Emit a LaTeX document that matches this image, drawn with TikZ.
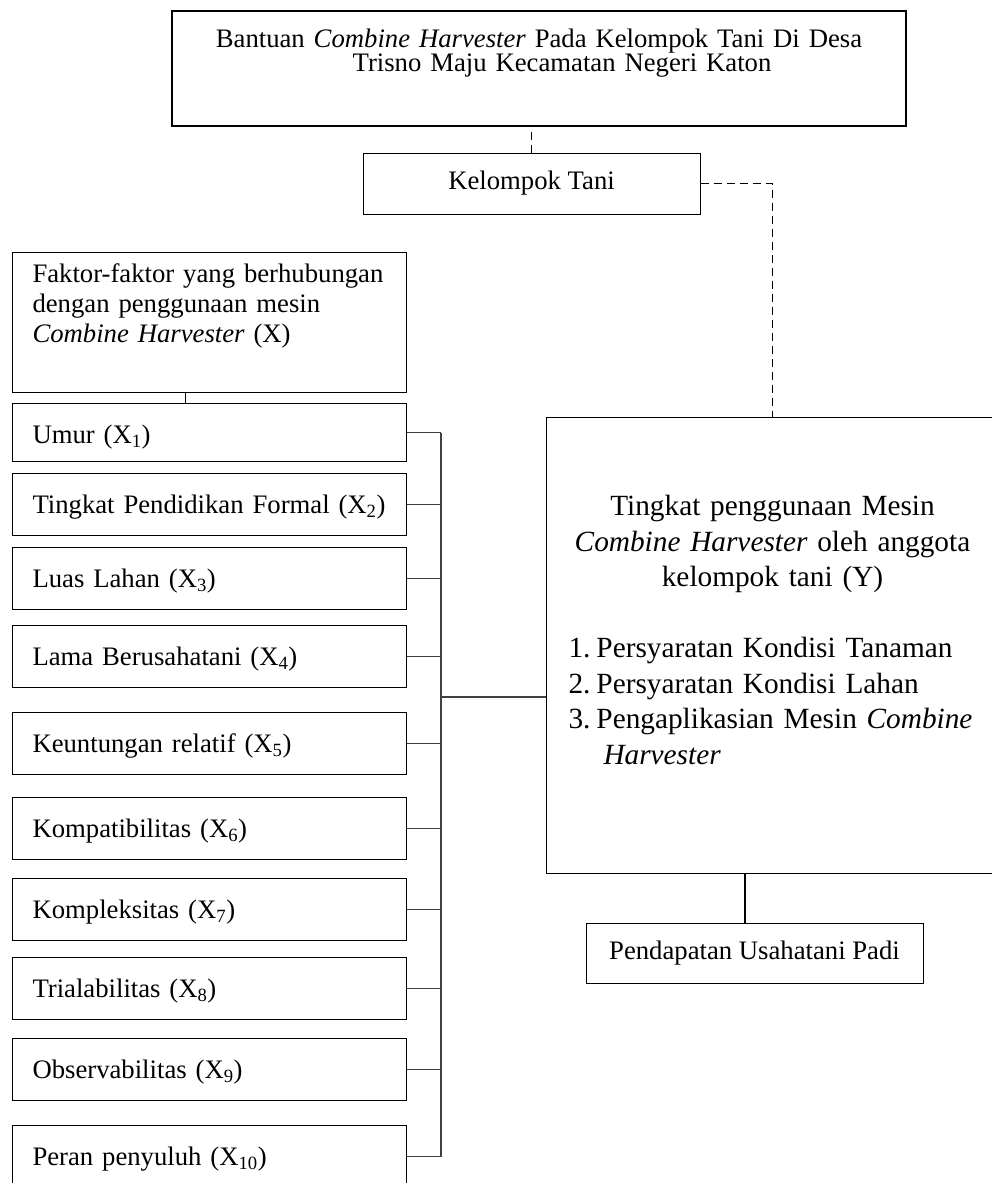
\documentclass[tikz,border=0pt]{standalone}
\usepackage{fontspec}
\setmainfont{Liberation Serif}
\usetikzlibrary{positioning,calc}
\setlength{\lineskiplimit}{-30pt}

\tikzset{
  kotak/.style={draw, line width=1pt, inner sep=0pt},
  faktor/.style={kotak, anchor=north west, inner xsep=20pt, text width=354pt, align=left, text height=40pt, text depth=22pt, font=\fontsize{26.7}{30}\selectfont},
  garis/.style={line width=1.2pt, draw=black!75},
  putus/.style={line width=1pt, dash pattern=on 8pt off 5pt},
}

\begin{document}
\begin{tikzpicture}[x=1pt,y=-1pt]
    \useasboundingbox (0,0) rectangle (991,1183);

    \node[kotak, line width=2pt, anchor=north west, inner xsep=10pt, text width=714pt, align=center, text height=36pt, text depth=79pt, font=\fontsize{26.7}{24.7}\selectfont] (bantuan) at (171,10) {Bantuan \emph{Combine Harvester} Pada Kelompok Tani Di Desa\\\hspace*{46pt}Trisno Maju Kecamatan Negeri Katon};

    \node[kotak, minimum width=337pt, minimum height=61pt, font=\fontsize{26.7}{30}\selectfont] (kelompok) at (531.5,183.5) {Kelompok Tani};

    \node[faktor, text height=30pt, text depth=110pt] (faktor) at (12,252) {Faktor-faktor yang berhubungan\\ dengan penggunaan mesin\\ \emph{Combine Harvester} (X)};

    \node[faktor, text depth=18pt] (umur) at (12,403) {Umur (X\textsubscript{1})};
    \node[faktor] (pendidikan) at (12,473) {Tingkat Pendidikan Formal (X\textsubscript{2})};
    \node[faktor] (lahan) at (12,547) {Luas Lahan (X\textsubscript{3})};
    \node[faktor] (lama) at (12,625) {Lama Berusahatani (X\textsubscript{4})};
    \node[faktor] (untung) at (12,712) {Keuntungan relatif (X\textsubscript{5})};
    \node[faktor] (kompat) at (12,797) {Kompatibilitas (X\textsubscript{6})};
    \node[faktor] (kompleks) at (12,878) {Kompleksitas (X\textsubscript{7})};
    \node[faktor] (trial) at (12,957) {Trialabilitas (X\textsubscript{8})};
    \node[faktor] (observ) at (12,1038) {Observabilitas (X\textsubscript{9})};
    \node[faktor] (penyuluh) at (12,1125) {Peran penyuluh (X\textsubscript{10})};

    \node[kotak, anchor=north west, inner xsep=22pt, text width=408pt, text height=98pt, text depth=358pt, font=\fontsize{29.3}{35.5}\selectfont] (tingkat) at (546,417) {%
        {\centering Tingkat penggunaan Mesin\\
        \emph{Combine Harvester} oleh anggota\\
        kelompok tani (Y)\par}
        \vspace{35.5pt}
        \makebox[28pt][l]{1.}Persyaratan Kondisi Tanaman\par
        \makebox[28pt][l]{2.}Persyaratan Kondisi Lahan\par
        \makebox[28pt][l]{3.}Pengaplikasian Mesin \emph{Combine}\\\hspace*{35pt}\emph{Harvester}};

    \node[kotak, minimum width=337pt, minimum height=60pt, font=\fontsize{26.7}{30}\selectfont] (padi) at (754.5,953) {Pendapatan Usahatani Padi};

    % penghubung
    \draw[putus] (kelompok.north) -- (kelompok.north |- bantuan.south);
    \draw[putus] (kelompok.east) -| (tingkat.north);
    \draw[line width=1pt] ([xshift=-24pt]faktor.south) -- ([xshift=-24pt]umur.north);
    \coordinate (bus) at (441,697);
    \foreach \n in {umur,pendidikan,lahan,lama,untung,kompat,kompleks,trial,observ,penyuluh}
        \draw[garis] (\n.east) -- (\n.east -| bus);
    \draw[garis] (umur.east -| bus) -- (penyuluh.east -| bus);
    \draw[garis] (bus) -- (bus -| tingkat.west);
    \draw[line width=2.5pt] ([xshift=-9.5pt]padi.north) -- ([xshift=-9.5pt]padi.north |- tingkat.south);
\end{tikzpicture}
\end{document}
